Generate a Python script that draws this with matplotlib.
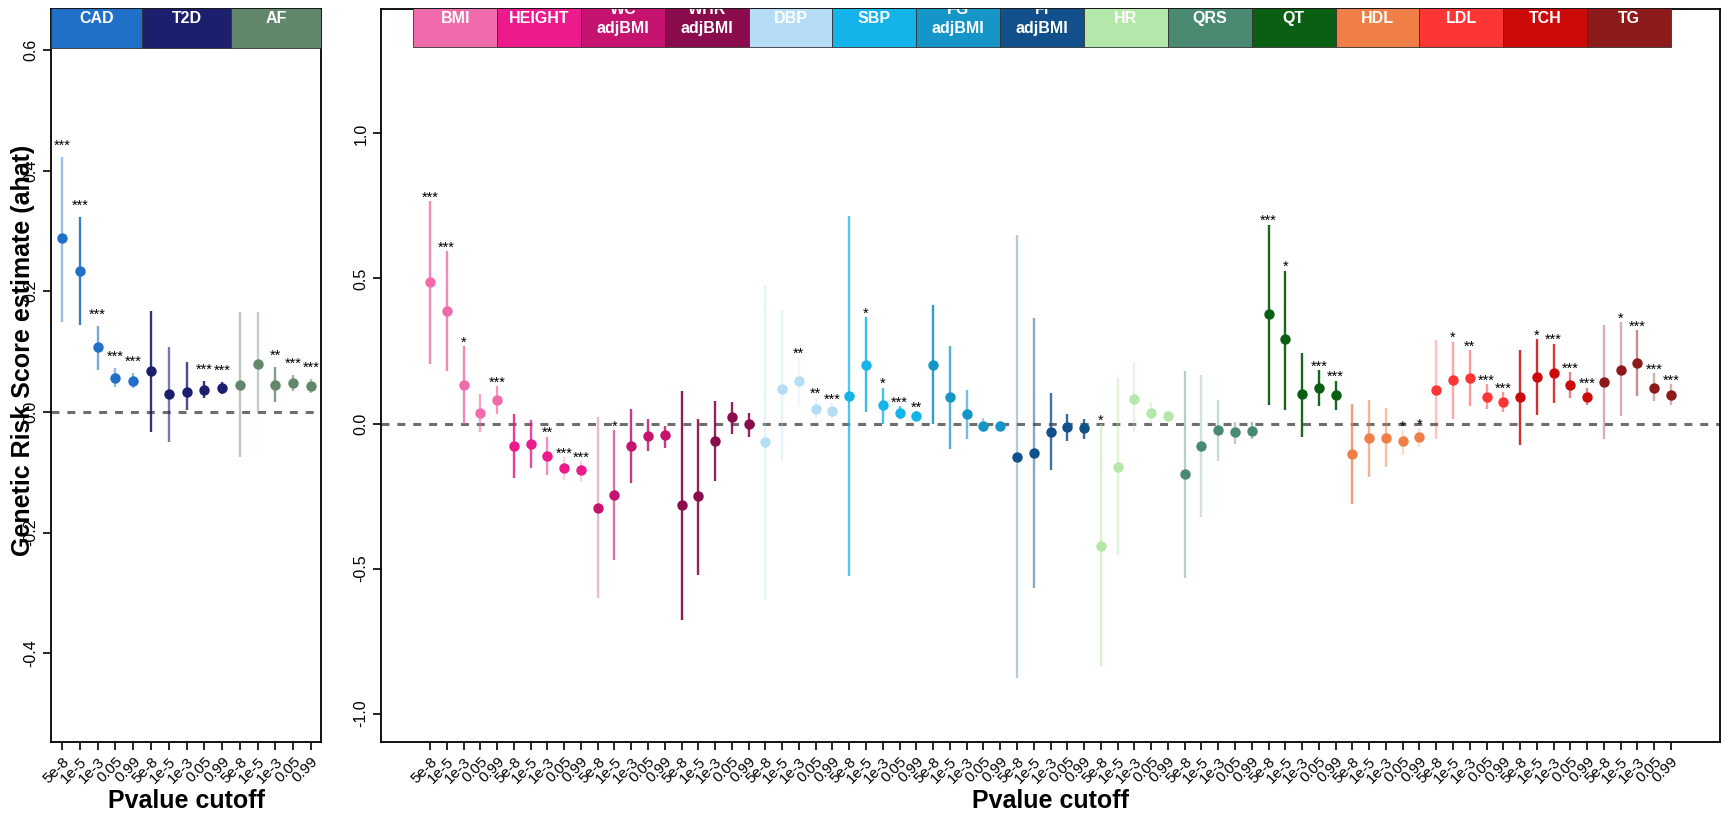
import matplotlib
matplotlib.use("Agg")
import matplotlib.pyplot as plt
from matplotlib.patches import Rectangle

plt.rcParams['font.family'] = ['Liberation Sans', 'DejaVu Sans']
plt.rcParams['axes.unicode_minus'] = False

cutoffs = ["5e-8", "1e-5", "1e-3", "0.05", "0.99"]

# ---- disease traits (left panel) ----
disease_names = ["CAD", "T2D", "AF"]
disease_colors = ["#2070c8", "#1b1f6e", "#62876a"]
disease_est = [[0.288, 0.233, 0.107, 0.057, 0.052],
               [0.068, 0.030, 0.033, 0.037, 0.040],
               [0.045, 0.080, 0.045, 0.048, 0.043]]
disease_lo = [[0.150, 0.145, 0.070, 0.042, 0.040],
              [-0.033, -0.050, 0.003, 0.024, 0.030],
              [-0.075, -0.002, 0.017, 0.035, 0.032]]
disease_hi = [[0.423, 0.323, 0.142, 0.073, 0.065],
              [0.167, 0.108, 0.083, 0.052, 0.050],
              [0.165, 0.165, 0.075, 0.062, 0.055]]
disease_stars = [["***", "***", "***", "***", "***"],
                 ["", "", "", "***", "***"],
                 ["", "", "**", "***", "***"]]
disease_alpha = [[0.45, 0.9, 0.6, 0.5, 0.5],
                 [0.9, 0.6, 0.8, 0.9, 0.9],
                 [0.45, 0.4, 0.8, 0.6, 0.5]]

# ---- quantitative risk factors (right panel) ----
factor_names = ["BMI", "HEIGHT", "WC\nadjBMI", "WHR\nadjBMI", "DBP", "SBP",
                "FG\nadjBMI", "FI\nadjBMI", "HR", "QRS", "QT", "HDL", "LDL",
                "TCH", "TG"]
factor_colors = ["#f06bab", "#ec1a8c", "#c4146f", "#8a0c4d", "#b5ddf6",
                 "#14b3ea", "#1595c8", "#12508c", "#b4e7aa", "#4a8a70",
                 "#0b5f13", "#ef7f46", "#fc3535", "#cd0a0a", "#8c1a1b"]
factor_est = [[0.489, 0.388, 0.134, 0.037, 0.082],
              [-0.078, -0.071, -0.113, -0.154, -0.161],
              [-0.292, -0.246, -0.078, -0.042, -0.041],
              [-0.282, -0.250, -0.059, 0.021, -0.003],
              [-0.064, 0.120, 0.145, 0.051, 0.042],
              [0.096, 0.203, 0.064, 0.037, 0.025],
              [0.202, 0.092, 0.032, -0.007, -0.007],
              [-0.116, -0.102, -0.031, -0.013, -0.017],
              [-0.424, -0.151, 0.086, 0.035, 0.025],
              [-0.175, -0.078, -0.024, -0.031, -0.027],
              [0.379, 0.290, 0.100, 0.124, 0.099],
              [-0.106, -0.049, -0.049, -0.062, -0.048],
              [0.117, 0.150, 0.158, 0.093, 0.075],
              [0.092, 0.161, 0.175, 0.134, 0.093],
              [0.143, 0.185, 0.209, 0.124, 0.099]]
factor_lo = [[0.206, 0.181, 0.000, -0.031, 0.032],
             [-0.189, -0.155, -0.177, -0.194, -0.200],
             [-0.603, -0.469, -0.205, -0.096, -0.085],
             [-0.678, -0.521, -0.198, -0.035, -0.045],
             [-0.610, -0.130, 0.060, 0.018, 0.014],
             [-0.525, 0.040, 0.000, 0.014, 0.008],
             [-0.003, -0.088, -0.052, -0.031, -0.020],
             [-0.879, -0.568, -0.162, -0.059, -0.052],
             [-0.836, -0.455, -0.031, -0.003, 0.004],
             [-0.532, -0.321, -0.130, -0.071, -0.052],
             [0.065, 0.047, -0.045, 0.061, 0.047],
             [-0.278, -0.184, -0.151, -0.109, -0.080],
             [-0.052, 0.016, 0.061, 0.049, 0.040],
             [-0.073, 0.028, 0.072, 0.089, 0.065],
             [-0.052, 0.025, 0.096, 0.079, 0.064]]
factor_hi = [[0.767, 0.595, 0.266, 0.103, 0.129],
             [0.032, 0.011, -0.045, -0.116, -0.130],
             [0.023, -0.024, 0.049, 0.014, -0.010],
             [0.113, 0.016, 0.079, 0.075, 0.037],
             [0.477, 0.393, 0.230, 0.089, 0.070],
             [0.715, 0.367, 0.124, 0.061, 0.042],
             [0.410, 0.268, 0.117, 0.018, 0.008],
             [0.650, 0.364, 0.106, 0.032, 0.016],
             [-0.003, 0.160, 0.209, 0.075, 0.042],
             [0.181, 0.167, 0.082, 0.004, 0.004],
             [0.686, 0.527, 0.244, 0.185, 0.148],
             [0.068, 0.082, 0.054, -0.024, -0.017],
             [0.287, 0.282, 0.254, 0.136, 0.107],
             [0.254, 0.291, 0.275, 0.178, 0.124],
             [0.339, 0.350, 0.322, 0.174, 0.136]]
factor_stars = [["***", "***", "*", "", "***"],
                ["", "", "**", "***", "***"],
                ["", "*", "", "", ""],
                ["", "", "", "", ""],
                ["", "", "**", "**", "***"],
                ["", "*", "*", "***", "**"],
                ["", "", "", "", ""],
                ["", "", "", "", ""],
                ["*", "", "", "", ""],
                ["", "", "", "", ""],
                ["***", "*", "", "***", "***"],
                ["", "", "", "*", "*"],
                ["", "*", "**", "***", "***"],
                ["", "*", "***", "***", "***"],
                ["", "*", "***", "***", "***"]]
factor_alpha = [[0.8, 0.8, 0.8, 0.6, 0.7],
                [0.85, 0.8, 0.5, 0.2, 0.2],
                [0.3, 0.6, 0.85, 0.85, 0.85],
                [0.95, 0.9, 0.9, 0.9, 0.9],
                [0.3, 0.3, 0.25, 0.3, 0.3],
                [0.75, 0.85, 0.8, 0.7, 0.7],
                [0.9, 0.75, 0.6, 0.4, 0.3],
                [0.3, 0.5, 0.8, 0.85, 0.85],
                [0.5, 0.4, 0.35, 0.3, 0.3],
                [0.4, 0.25, 0.3, 0.4, 0.5],
                [0.95, 0.95, 0.95, 0.95, 0.95],
                [0.75, 0.6, 0.5, 0.25, 0.25],
                [0.3, 0.45, 0.5, 0.5, 0.5],
                [0.85, 0.85, 0.8, 0.5, 0.5],
                [0.35, 0.35, 0.5, 0.35, 0.35]]

W, H = 1732, 815
fig = plt.figure(figsize=(W / 100, H / 100), dpi=100)


def px_axes(x0, x1, y_top, y_bot):
    return fig.add_axes([x0 / W, 1 - y_bot / H, (x1 - x0) / W, (y_bot - y_top) / H])


def draw_points(ax, colors, est, lo, hi, stars, alphas):
    for k, col in enumerate(colors):
        for j in range(len(cutoffs)):
            x = k * len(cutoffs) + j + 1
            ax.plot([x, x], [lo[k][j], hi[k][j]], color=col, alpha=alphas[k][j],
                    lw=1.7, solid_capstyle='butt', zorder=2)
            ax.plot(x, est[k][j], 'o', color=col, ms=7.5, mec='none', zorder=3)
            if stars[k][j]:
                ax.annotate(stars[k][j], xy=(x, hi[k][j] + 0.025), xytext=(0, -5.6),
                            textcoords='offset points', ha='center', va='baseline',
                            fontsize=10.5, color='black', zorder=4)


def style_axis(ax, n_groups, yticks):
    n = n_groups * len(cutoffs)
    ax.axhline(0, color='#6e6e6e', lw=2.2, ls=(0, (2.6, 2.6)), zorder=1)
    ax.set_xticks(range(1, n + 1))
    ax.set_xticklabels(cutoffs * n_groups, rotation=45, ha='right',
                       rotation_mode='anchor', fontsize=11)
    ax.set_yticks(yticks)
    ax.set_yticklabels(["%.1f" % v for v in yticks], rotation=90, va='center',
                       fontsize=11.5)
    ax.tick_params(axis='both', length=6, width=1.2, pad=3)
    for s in ax.spines.values():
        s.set_linewidth(1.3)
    ax.set_xlabel("Pvalue cutoff", fontsize=18, fontweight='bold', labelpad=2)


# left panel: disease traits
axL = px_axes(51, 321, 9, 742)
draw_points(axL, disease_colors, disease_est, disease_lo, disease_hi,
            disease_stars, disease_alpha)
style_axis(axL, len(disease_names), [0.6, 0.4, 0.2, 0.0, -0.2, -0.4])
xl = (0.38, 15.56)
bounds = [xl[0], 5.5, 10.5, xl[1]]
for k, (name, col) in enumerate(zip(disease_names, disease_colors)):
    axL.add_patch(Rectangle((bounds[k], 0.603), bounds[k + 1] - bounds[k], 1.0,
                            fc=col, ec='#333333', lw=0.6, zorder=5, clip_on=True))
    axL.text((bounds[k] + bounds[k + 1]) / 2, 0.652, name, color='white',
             fontsize=11.5, fontweight='bold', ha='center', va='center',
             zorder=6, clip_on=True)
axL.set_xlim(*xl)
axL.set_ylim(-0.547, 0.668)

# right panel: quantitative traits
axR = px_axes(381, 1720, 9, 742)
draw_points(axR, factor_colors, factor_est, factor_lo, factor_hi,
            factor_stars, factor_alpha)
style_axis(axR, len(factor_names), [1.0, 0.5, 0.0, -0.5, -1.0])
for k, (name, col) in enumerate(zip(factor_names, factor_colors)):
    x0 = k * len(cutoffs)
    axR.add_patch(Rectangle((x0, 1.298), len(cutoffs), 1.0, fc=col,
                            ec='#333333', lw=0.6, zorder=5, clip_on=True))
    axR.text(x0 + len(cutoffs) / 2, 1.395, name, color='white', fontsize=11.5,
             fontweight='bold', ha='center', va='center', linespacing=1.3,
             zorder=6, clip_on=True)
axR.set_xlim(-1.92, 77.92)
axR.set_ylim(-1.098, 1.429)

fig.text(23 / W, 1 - 350 / H, "Genetic Risk Score estimate (ahat)", rotation=90,
         fontsize=18, fontweight='bold', ha='center', va='center')

fig.savefig("out.png", dpi=100)
